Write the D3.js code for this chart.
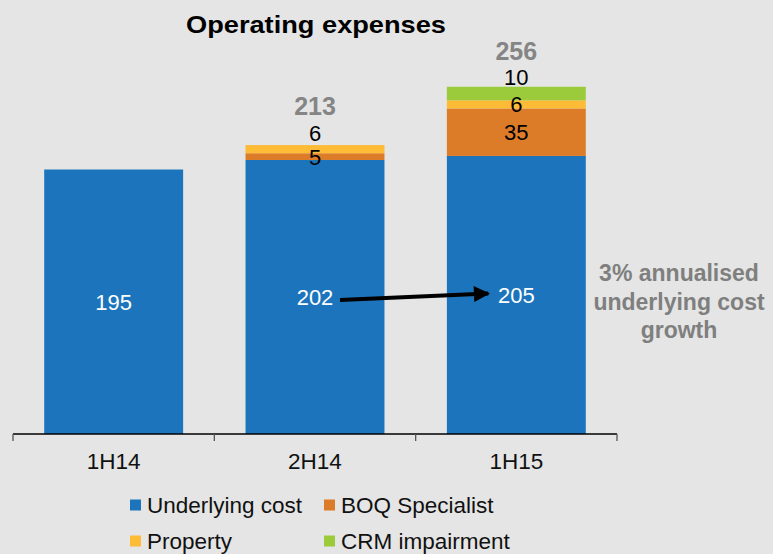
<!DOCTYPE html>
<html><head><meta charset="utf-8">
<script src="https://cdn.jsdelivr.net/npm/d3@7"></script>
<style>
html,body{margin:0;padding:0;background:#e4e5e4;}
svg{display:block;font-family:"Liberation Sans",Arial,sans-serif;}
</style></head>
<body><svg id="c" width="773" height="554"></svg>
<script>
const categories = ["1H14", "2H14", "1H15"];
const seriesNames = ["Underlying cost", "BOQ Specialist", "Property", "CRM impairment"];
const underlyingCost = [195, 202, 205];
const boqSpecialist = [0, 5, 35];
const property = [0, 6, 6];
const crmImpairment = [0, 0, 10];
const totals = [null, 213, 256];
const colors = ["#1c75bc", "#dd7c28", "#fdbb36", "#9bcb3b"];
const annotation = ["3% annualised", "underlying cost", "growth"];
const title = "Operating expenses";

const keys = ["u", "b", "p", "c"];
const rows = categories.map((c, i) => ({cat: c, u: underlyingCost[i], b: boqSpecialist[i], p: property[i], c: crmImpairment[i]}));
const stack = d3.stack().keys(keys)(rows);

const svg = d3.select("#c");
const x = d3.scaleBand().domain(categories).range([13, 617]).paddingInner(0.31).paddingOuter(0.155);
const y = d3.scaleLinear().domain([0, 300]).range([434, 434 - 1.3564 * 300]);

// title
svg.append("text").attr("x", 316).attr("y", 32.5).attr("text-anchor", "middle")
  .attr("font-weight", "bold").attr("font-size", 24).attr("textLength", 260).attr("lengthAdjust", "spacingAndGlyphs")
  .attr("fill", "#000").text(title);

// bars
const g = svg.append("g");
stack.forEach((s, si) => {
  g.selectAll(null).data(s).enter().append("rect")
    .attr("x", d => x(d.data.cat))
    .attr("width", x.bandwidth())
    .attr("y", d => y(d[1]))
    .attr("height", d => Math.max(0, y(d[0]) - y(d[1])))
    .attr("fill", colors[si]);
});

// axis
const axis = d3.axisBottom(x).tickSize(0).tickFormat("");
const ag = svg.append("g").attr("transform", "translate(0,434)").call(axis);
ag.select(".domain").remove();
ag.append("line").attr("x1", 13).attr("x2", 617).attr("y1", 0).attr("y2", 0).attr("stroke", "#000").attr("stroke-width", 1.3);
const edges = [13].concat(categories.map(c => x(c) + x.bandwidth() + x.step() * x.paddingInner() / 2));
edges[edges.length - 1] = 617;
ag.selectAll(".edge").data(edges).enter().append("line")
  .attr("x1", d => d).attr("x2", d => d).attr("y1", 0).attr("y2", 7).attr("stroke", "#555").attr("stroke-width", 1.3);
svg.selectAll(".cat").data(categories).enter().append("text")
  .attr("x", d => x(d) + x.bandwidth() / 2).attr("y", 469).attr("text-anchor", "middle")
  .attr("font-size", 22.5).attr("fill", "#111").text(d => d);

// segment labels
const topLabelY = {};
stack.forEach((s, si) => {
  s.forEach((d, i) => {
    const v = d[1] - d[0];
    if (!v) return;
    const isTop = stack.slice(si + 1).every(ss => ss[i][1] - ss[i][0] === 0);
    let cy = (y(d[0]) + y(d[1])) / 2;
    if (si > 0 && isTop) { cy -= 16; topLabelY[i] = cy; }
    svg.append("text").attr("x", x(d.data.cat) + x.bandwidth() / 2).attr("y", cy).attr("dy", "0.36em")
      .attr("text-anchor", "middle").attr("font-size", 22)
      .attr("fill", si === 0 ? "#fff" : "#000").text(v);
  });
});
// totals
totals.forEach((t, i) => {
  if (t == null) return;
  svg.append("text").attr("x", x(categories[i]) + x.bandwidth() / 2).attr("y", topLabelY[i] - 27).attr("dy", "0.36em")
    .attr("text-anchor", "middle").attr("font-size", 25).attr("font-weight", "bold").attr("fill", "#858585").text(t);
});

// arrow
svg.append("defs").append("marker").attr("id", "ah").attr("viewBox", "0 0 10 10")
  .attr("refX", 9).attr("refY", 5).attr("markerWidth", 4.2).attr("markerHeight", 4).attr("markerUnits", "strokeWidth")
  .attr("orient", "auto").append("path").attr("d", "M0,0L10,5L0,10z").attr("fill", "#000");
const ax1 = x(categories[1]) + x.bandwidth() / 2 + 25;
const ax2 = x(categories[2]) + x.bandwidth() / 2 - 28;
svg.append("line").attr("x1", ax1).attr("y1", (y(0) + y(underlyingCost[1])) / 2 + 3)
  .attr("x2", ax2).attr("y2", (y(0) + y(underlyingCost[2])) / 2 - 1.5)
  .attr("stroke", "#000").attr("stroke-width", 4).attr("marker-end", "url(#ah)");

// annotation
svg.append("g").selectAll("text").data(annotation).enter().append("text")
  .attr("x", 679).attr("y", (d, i) => 281 + i * 28.5).attr("text-anchor", "middle")
  .attr("font-size", 23).attr("font-weight", "bold").attr("fill", "#7f7f7f").text(d => d);

// legend
const legPos = [[130, 505], [324, 505], [130, 541], [324, 541]];
seriesNames.forEach((n, i) => {
  const [lx, ly] = legPos[i];
  svg.append("rect").attr("x", lx).attr("y", ly - 5.5).attr("width", 11).attr("height", 11).attr("fill", colors[i]);
  svg.append("text").attr("x", lx + 17).attr("y", ly).attr("dy", "0.36em").attr("font-size", 22.5).attr("fill", "#111").text(n);
});
</script></body></html>
